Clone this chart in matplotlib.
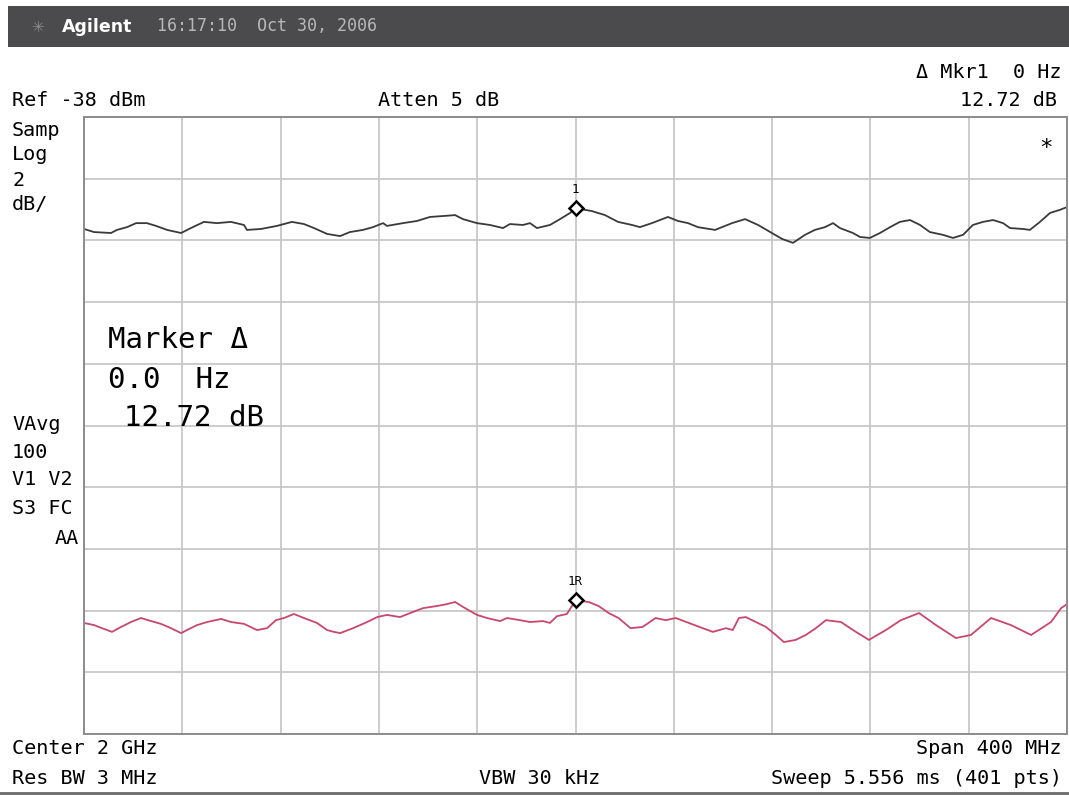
import numpy as np
import matplotlib.pyplot as plt
from matplotlib.patches import Rectangle

# trace data (MHz, dBm)
upper_mhz = [1800.0, 1804.1, 1811.0, 1813.4, 1817.5, 1821.2, 1825.6, 1829.3, 1833.8, 1839.5,
             1843.5, 1848.8, 1854.1, 1859.8, 1865.1, 1866.3, 1872.0, 1878.5, 1884.6, 1889.5,
             1893.6, 1898.9, 1904.2, 1908.2, 1913.5, 1917.6, 1921.7, 1923.3, 1929.8, 1935.5,
             1940.8, 1946.1, 1951.0, 1954.2, 1959.9, 1965.2, 1970.5, 1973.3, 1978.6, 1981.5,
             1984.3, 1989.6, 1993.7, 1997.8, 2000.0, 2003.9, 2006.7, 2012.0, 2017.3, 2023.0,
             2026.2, 2031.1, 2037.6, 2041.7, 2045.8, 2049.8, 2056.8, 2063.7, 2069.0, 2074.3,
             2079.9, 2084.0, 2088.5, 2093.4, 2097.4, 2101.5, 2104.8, 2107.6, 2112.9, 2115.8,
             2119.8, 2123.9, 2128.0, 2132.0, 2136.1, 2140.2, 2144.2, 2149.5, 2153.6, 2157.7,
             2161.7, 2165.8, 2169.9, 2174.0, 2176.8, 2182.1, 2184.9, 2189.0, 2193.1, 2197.1,
             2200.0]
upper_dbm = [-41.63, -41.73, -41.76, -41.66, -41.57, -41.44, -41.44, -41.53, -41.66, -41.76,
             -41.60, -41.40, -41.44, -41.40, -41.50, -41.66, -41.63, -41.53, -41.40, -41.47,
             -41.60, -41.79, -41.86, -41.73, -41.66, -41.57, -41.44, -41.53, -41.44, -41.37,
             -41.24, -41.21, -41.18, -41.31, -41.44, -41.50, -41.60, -41.47, -41.50, -41.44,
             -41.60, -41.50, -41.31, -41.11, -40.95, -41.01, -41.05, -41.18, -41.40, -41.50,
             -41.57, -41.44, -41.24, -41.37, -41.44, -41.57, -41.66, -41.44, -41.31, -41.50,
             -41.76, -41.95, -42.08, -41.82, -41.66, -41.57, -41.44, -41.60, -41.76, -41.89,
             -41.92, -41.76, -41.57, -41.40, -41.34, -41.50, -41.73, -41.82, -41.92, -41.82,
             -41.50, -41.40, -41.34, -41.44, -41.60, -41.63, -41.66, -41.40, -41.11, -41.01,
             -40.92]

lower_mhz = [1800.0, 1804.1, 1807.3, 1811.4, 1815.1, 1819.1, 1823.2, 1827.3, 1831.3, 1835.4,
             1839.5, 1841.9, 1846.0, 1850.1, 1855.8, 1859.8, 1865.1, 1870.4, 1874.5, 1878.1,
             1881.4, 1885.4, 1889.5, 1894.8, 1898.9, 1901.7, 1904.2, 1909.5, 1915.2, 1919.3,
             1923.3, 1928.6, 1932.7, 1938.0, 1943.7, 1947.7, 1951.0, 1954.2, 1959.9, 1964.0,
             1969.3, 1972.1, 1977.4, 1981.5, 1986.8, 1989.6, 1992.5, 1996.5, 2000.0, 2005.3,
             2009.4, 2013.5, 2017.5, 2022.4, 2027.3, 2032.6, 2036.7, 2040.8, 2046.1, 2051.8,
             2055.9, 2061.2, 2064.0, 2066.5, 2069.3, 2073.4, 2077.5, 2081.5, 2084.8, 2089.6,
             2093.7, 2097.8, 2101.9, 2108.0, 2114.1, 2119.4, 2126.3, 2132.4, 2139.8, 2146.7,
             2154.8, 2160.9, 2169.1, 2177.2, 2185.4, 2193.5, 2197.6, 2200.0]
lower_dbm = [-54.40, -54.47, -54.57, -54.69, -54.53, -54.37, -54.24, -54.34, -54.43, -54.57,
             -54.73, -54.63, -54.47, -54.37, -54.27, -54.37, -54.43, -54.63, -54.57, -54.31,
             -54.24, -54.11, -54.24, -54.40, -54.63, -54.69, -54.73, -54.57, -54.37, -54.21,
             -54.14, -54.21, -54.08, -53.92, -53.85, -53.79, -53.72, -53.88, -54.14, -54.24,
             -54.34, -54.24, -54.31, -54.37, -54.34, -54.40, -54.18, -54.11, -53.67, -53.72,
             -53.85, -54.08, -54.24, -54.57, -54.53, -54.24, -54.31, -54.24, -54.40, -54.57,
             -54.69, -54.57, -54.63, -54.24, -54.21, -54.37, -54.53, -54.79, -55.02, -54.95,
             -54.79, -54.57, -54.31, -54.37, -54.69, -54.95, -54.63, -54.31, -54.08, -54.47,
             -54.89, -54.79, -54.24, -54.47, -54.79, -54.37, -53.92, -53.79]

marker_mhz = 2000.0
ref_dbm = -38
db_per_div = 2
center_mhz = 2000
span_mhz = 400

W, H = 1069, 796
MONO = 'DejaVu Sans Mono'


def px(x, y):
    return x / W, 1 - y / H


fig = plt.figure(figsize=(W / 100, H / 100), dpi=100)
fig.patch.set_facecolor('white')

# title bar
fig.patches.append(Rectangle(px(8, 47), (W - 8) / W, 41 / H, transform=fig.transFigure,
                             facecolor='#4b4b4d', edgecolor='none'))
fig.text(*px(38, 27), '\u2733', color='#8a8a8a', fontsize=11, va='center', ha='center')
fig.text(*px(62, 27), 'Agilent', color='white', fontsize=12.5, fontweight='bold',
         va='center', family='DejaVu Sans')
fig.text(*px(157, 26), '16:17:10  Oct 30, 2006', color='#b8b8b8', fontsize=12,
         va='center', family=MONO)

# graticule
ax = fig.add_axes([84 / W, 1 - 734 / H, 983 / W, 617 / H])
lo, hi = center_mhz - span_mhz / 2, center_mhz + span_mhz / 2
ax.set_xlim(lo, hi)
ax.set_ylim(ref_dbm - 10 * db_per_div, ref_dbm)
ax.set_xticks(np.linspace(lo, hi, 11))
ax.set_yticks(np.arange(ref_dbm - 10 * db_per_div, ref_dbm + 1, db_per_div))
ax.tick_params(length=0, labelbottom=False, labelleft=False)
ax.grid(True, color='#c4c4c4', linewidth=1.2)
for s in ax.spines.values():
    s.set_color('#8c8c8c')
    s.set_linewidth(1.4)

ax.plot(upper_mhz, upper_dbm, color='#3a3a3a', linewidth=1.3)
ax.plot(lower_mhz, lower_dbm, color='#c8476e', linewidth=1.3)

# markers
up_m = np.interp(marker_mhz, upper_mhz, upper_dbm)
lo_m = np.interp(marker_mhz, lower_mhz, lower_dbm)
for yv, lab in [(up_m, '1'), (lo_m, '1R')]:
    ax.plot(marker_mhz, yv, marker='D', markersize=7, markerfacecolor='white',
            markeredgecolor='black', markeredgewidth=1.8, zorder=5)
    ax.annotate(lab, (marker_mhz, yv), xytext=(0, 9), textcoords='offset points',
                ha='center', va='bottom', fontsize=9, family=MONO)

ax.text(0.978, 0.95, '*', transform=ax.transAxes, fontsize=16, ha='center', va='center',
        family=MONO)

# annotations around the screen
fs = 14.5
fig.text(*px(12, 100), 'Ref -38 dBm', fontsize=fs, va='center', family=MONO)
fig.text(*px(378, 100), 'Atten 5 dB', fontsize=fs, va='center', family=MONO)
fig.text(*px(1062, 73), '\u0394 Mkr1  0 Hz', fontsize=fs, va='center', ha='right', family=MONO)
fig.text(*px(1057, 100), '%.2f dB' % (up_m - lo_m), fontsize=fs, va='center', ha='right',
         family=MONO)

left_lines = [('Samp', 130), ('Log', 155), ('2', 180), ('dB/', 205),
              ('VAvg', 425), ('100', 452), ('V1 V2', 480), ('S3 FC', 509)]
for t, y in left_lines:
    fig.text(*px(12, y), t, fontsize=fs, va='center', family=MONO)
fig.text(*px(79, 538), 'AA', fontsize=fs, va='center', ha='right', family=MONO)

big = 21
fig.text(*px(108, 340), 'Marker \u0394', fontsize=big, va='center', family=MONO)
fig.text(*px(108, 380), '0.0  Hz', fontsize=big, va='center', family=MONO)
fig.text(*px(124, 418), '%.2f dB' % (up_m - lo_m), fontsize=big, va='center', family=MONO)

fig.text(*px(12, 749), 'Center 2 GHz', fontsize=fs, va='center', family=MONO)
fig.text(*px(1062, 749), 'Span 400 MHz', fontsize=fs, va='center', ha='right', family=MONO)
fig.text(*px(12, 778), 'Res BW 3 MHz', fontsize=fs, va='center', family=MONO)
fig.text(*px(479, 778), 'VBW 30 kHz', fontsize=fs, va='center', family=MONO)
fig.text(*px(1062, 778), 'Sweep 5.556 ms (401 pts)', fontsize=fs, va='center', ha='right',
         family=MONO)
fig.add_artist(plt.Line2D([0, 1], [1 - 793 / H] * 2, color='#6a6a6a', linewidth=2,
                          transform=fig.transFigure))

fig.savefig('out.png', dpi=100)
